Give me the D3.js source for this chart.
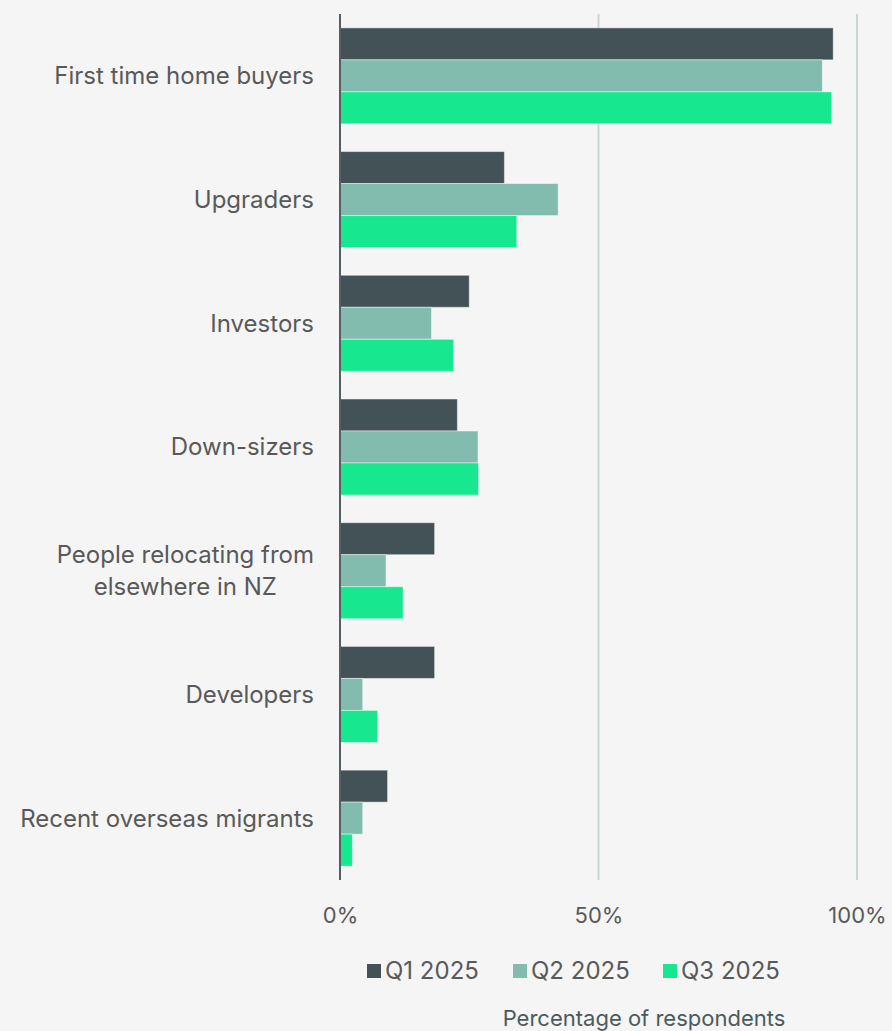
<!DOCTYPE html>
<html>
<head>
<meta charset="utf-8">
<script src="https://cdn.jsdelivr.net/npm/d3@7"></script>
<style>
  html, body { margin: 0; padding: 0; background: #f5f5f5; }
  svg { display: block; }
  text { font-family: Inter, Roboto, sans-serif; font-weight: 400; }
</style>
</head>
<body>
<svg id="chart" width="892" height="1031"></svg>
<script>
// Buyer groups (top to bottom); "\n" splits a label over two lines
const categories = [
  "First time home buyers",
  "Upgraders",
  "Investors",
  "Down-sizers",
  "People relocating from\nelsewhere in NZ",
  "Developers",
  "Recent overseas migrants"
];
const seriesNames = ["Q1 2025", "Q2 2025", "Q3 2025"];
// Percentage of respondents per quarter
const q1Values = [95.4, 31.8, 25.0, 22.7, 18.3, 18.3, 9.2];
const q2Values = [93.3, 42.2, 17.7, 26.7, 8.9, 4.4, 4.4];
const q3Values = [95.1, 34.2, 22.0, 26.8, 12.2, 7.3, 2.4];
const tickValues = [0, 50, 100];
const tickLabels = ["0%", "50%", "100%"];
const colors = ["#435257", "#82bcae", "#17e88f"];

const series = [q1Values, q2Values, q3Values];
const svg = d3.select("#chart");

const x = d3.scaleLinear().domain([0, 100]).range([340, 857]);
const y = d3.scaleBand().domain(categories).range([14, 880])
  .paddingInner(0.224).paddingOuter(0.112);
const ySub = d3.scaleBand().domain(seriesNames).range([0, y.bandwidth()]);

// Vertical gridlines (50%, 100%)
svg.append("g").selectAll("line")
  .data(tickValues.filter(d => d > 0))
  .join("line")
  .attr("x1", d => x(d)).attr("x2", d => x(d))
  .attr("y1", 14).attr("y2", 880)
  .attr("stroke", "#c9d5d1").attr("stroke-width", 2);

// Bars
const groups = svg.append("g").selectAll("g")
  .data(categories)
  .join("g")
  .attr("transform", d => `translate(0,${y(d)})`);

groups.selectAll("rect")
  .data((c, i) => seriesNames.map((s, k) => ({ s, v: series[k][i], k })))
  .join("rect")
  .attr("x", x(0))
  .attr("y", d => ySub(d.s))
  .attr("width", d => x(d.v) - x(0))
  .attr("height", ySub.bandwidth())
  .attr("fill", d => colors[d.k])
  .attr("stroke", "rgba(255,255,255,0.45)")
  .attr("stroke-width", 1);

// Category axis line
svg.append("line")
  .attr("x1", x(0)).attr("x2", x(0))
  .attr("y1", 14).attr("y2", 880)
  .attr("stroke", "#555f63").attr("stroke-width", 2);

// Category labels: right-aligned block, multi-line labels centred within the block
const labelRight = 314;
const labels = svg.append("g").selectAll("text")
  .data(categories)
  .join("text")
  .attr("fill", "#595959")
  .attr("font-size", 24);
labels.each(function (d) {
  const lines = d.split("\n");
  const cy = y(d) + y.bandwidth() / 2;
  const t = d3.select(this);
  const spans = lines.map((ln, i) => t.append("tspan")
    .attr("y", cy + (i - (lines.length - 1) / 2) * 32)
    .attr("dy", "0.35em")
    .text(ln));
  if (lines.length === 1) {
    t.attr("text-anchor", "end");
    spans[0].attr("x", labelRight);
  } else {
    const w = d3.max(spans, s => s.node().getComputedTextLength());
    t.attr("text-anchor", "middle");
    spans.forEach(s => s.attr("x", labelRight - w / 2));
  }
});

// Value axis ticks
const xAxis = d3.axisBottom(x).tickValues(tickValues)
  .tickFormat((d, i) => tickLabels[i]).tickSize(0).tickPadding(0);
const gx = svg.append("g").attr("transform", "translate(0,915)").call(xAxis);
gx.select(".domain").remove();
gx.selectAll("text")
  .attr("dy", "0.35em").attr("y", 0)
  .attr("font-size", 22).attr("fill", "#595959")
  .style("font-family", "Inter, Roboto, sans-serif");

// Legend
const legendX = [367, 513, 663];
const legend = svg.append("g").selectAll("g")
  .data(seriesNames)
  .join("g")
  .attr("transform", (d, i) => `translate(${legendX[i]},971)`);
legend.append("rect")
  .attr("x", 0).attr("y", -7).attr("width", 14).attr("height", 14)
  .attr("fill", (d, i) => colors[i]);
legend.append("text")
  .attr("x", 18).attr("dy", "0.35em")
  .attr("font-size", 24).attr("fill", "#595959")
  .text(d => d);

// Axis title
svg.append("text")
  .attr("x", 644).attr("y", 1018).attr("dy", "0.35em")
  .attr("text-anchor", "middle")
  .attr("font-size", 22).attr("fill", "#4b5a5e")
  .text("Percentage of respondents");
</script>
</body>
</html>
